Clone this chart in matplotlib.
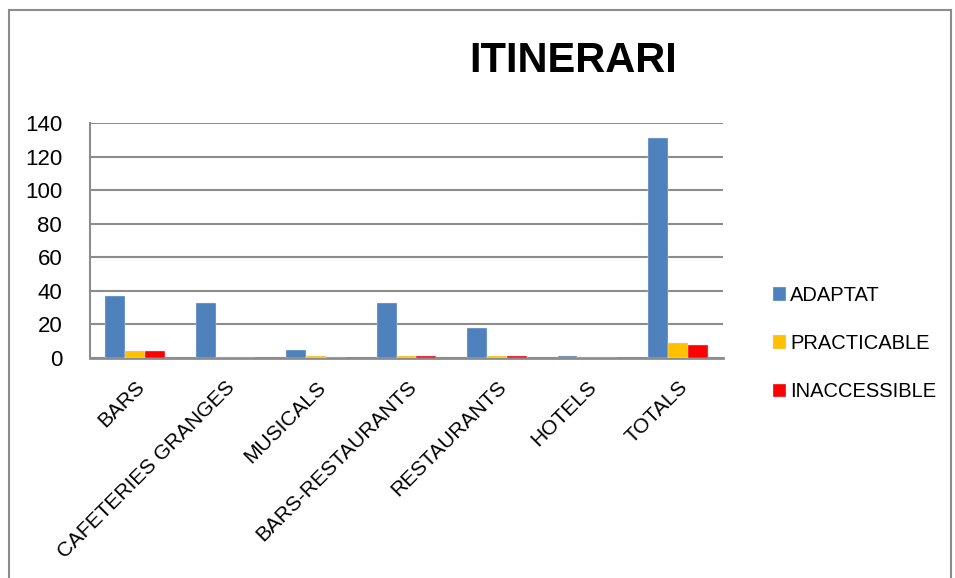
import matplotlib
matplotlib.use("Agg")
import matplotlib.pyplot as plt
import numpy as np
from matplotlib.patches import Rectangle

# dades
categories = ['BARS', 'CAFETERIES GRANGES', 'MUSICALS', 'BARS-RESTAURANTS',
              'RESTAURANTS', 'HOTELS', 'TOTALS']
adaptat = [37, 33, 5, 33, 18, 1, 131]
practicable = [4, 0, 1, 1, 1, 0, 9]
inaccessible = [4, 0, 0, 1, 1, 0, 8]
series_names = ['ADAPTAT', 'PRACTICABLE', 'INACCESSIBLE']
colors = ['#4F81BD', '#FFC000', '#FF0000']

plt.rcParams['font.family'] = ['Liberation Sans', 'DejaVu Sans']

fig = plt.figure(figsize=(9.55, 5.78), dpi=100)
ax = fig.add_axes([90/955, 1-358/578, (723-90)/955, (358-123)/578])

x = np.arange(len(categories))
w = 0.22
for i, (vals, name, c) in enumerate(zip([adaptat, practicable, inaccessible], series_names, colors)):
    ax.bar(x + (i-1)*w, vals, w, color=c, edgecolor='#dce6f2', linewidth=0.3, label=name, zorder=3)

ax.set_xlim(-0.5, len(categories)-0.5)
ax.set_ylim(0, 140)
ax.set_yticks(range(0, 141, 20))
ax.yaxis.grid(True, color='#8c8c8c', linewidth=1.5, zorder=0)
for s in ['top', 'right']:
    ax.spines[s].set_visible(False)
ax.spines['left'].set_color('#8c8c8c')
ax.spines['left'].set_linewidth(1.5)
ax.spines['bottom'].set_color('#8c8c8c')
ax.spines['bottom'].set_linewidth(2)
ax.tick_params(axis='y', length=0, pad=20, labelsize=16)
ax.tick_params(axis='x', length=0, pad=14)
ax.set_xticks(x)
ax.set_xticklabels(categories, rotation=45, ha='right', rotation_mode='anchor', fontsize=15)

fig.text(573/955, 1-61/578, 'ITINERARI', ha='center', va='center', fontsize=30,
         fontweight='bold')

fig.legend(loc='upper left', bbox_to_anchor=(765/955, 1-278/578), frameon=False,
           fontsize=14.5, handlelength=0.65, handleheight=0.65, handletextpad=0.2,
           labelspacing=1.45, borderaxespad=0)

# marc del gràfic
fig.patches.append(Rectangle((9/955, -0.1), (951-9)/955, 1.1-10/578, transform=fig.transFigure,
                             fill=False, edgecolor='#8c8c8c', linewidth=1.5))

fig.savefig('out.png', dpi=100)
